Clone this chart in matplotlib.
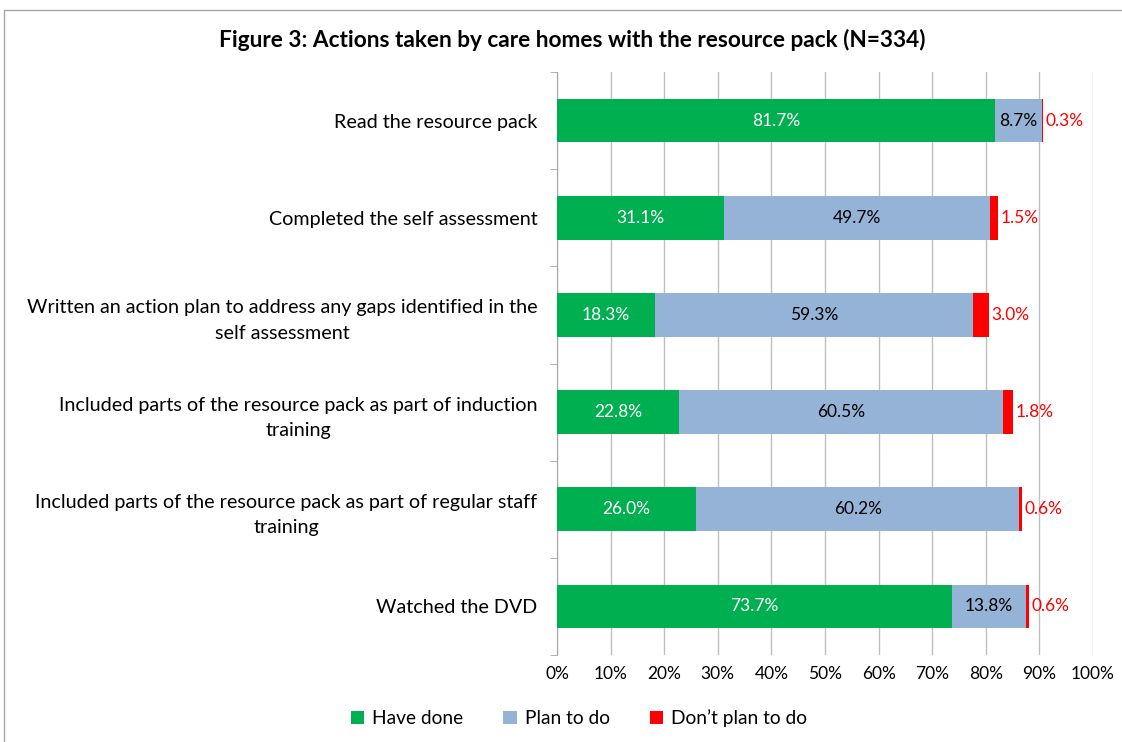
import matplotlib
matplotlib.use("Agg")
import matplotlib.pyplot as plt
from matplotlib.patches import Rectangle
import numpy as np

categories = [
    "Read the resource pack",
    "Completed the self assessment",
    "Written an action plan to address any gaps identified in the\nself assessment",
    "Included parts of the resource pack as part of induction\ntraining",
    "Included parts of the resource pack as part of regular staff\ntraining",
    "Watched the DVD",
]
have_done = [81.7, 31.1, 18.3, 22.8, 26.0, 73.7]
plan_to_do = [8.7, 49.7, 59.3, 60.5, 60.2, 13.8]
dont_plan = [0.3, 1.5, 3.0, 1.8, 0.6, 0.6]
series_names = ["Have done", "Plan to do", "Don\u2019t plan to do"]
colors = ["#00B050", "#95B3D7", "#FF0000"]
xticks = list(range(0, 101, 10))

plt.rcParams['font.family'] = ['Lato', 'DejaVu Sans']

fig = plt.figure(figsize=(11.22, 7.42), dpi=100)
ax = fig.add_axes([557/1122, 1-655/742, (1093-557)/1122, (655-72)/742])

# outer frame
fig.patches.append(Rectangle((4/1122, -0.01), 1.1, 1-10/742+0.01, transform=fig.transFigure,
                             fill=False, edgecolor="#A6A6A6", linewidth=1.0))

y = np.arange(len(categories))
h = 0.45
ax.barh(y, have_done, height=h, color=colors[0], label=series_names[0], zorder=3)
ax.barh(y, plan_to_do, left=have_done, height=h, color=colors[1], label=series_names[1], zorder=3)
left2 = [a + b for a, b in zip(have_done, plan_to_do)]
ax.barh(y, dont_plan, left=left2, height=h, color=colors[2], label=series_names[2], zorder=3)

fs_val = 12.5
for i in range(len(categories)):
    ax.text(have_done[i] / 2, y[i], f"{have_done[i]:.1f}%", ha="center", va="center",
            color="white", fontsize=fs_val, zorder=4)
    ax.text(have_done[i] + plan_to_do[i] / 2, y[i], f"{plan_to_do[i]:.1f}%", ha="center", va="center",
            color="black", fontsize=fs_val, zorder=4)
    ax.text(left2[i] + dont_plan[i] + 0.4, y[i], f"{dont_plan[i]:.1f}%", ha="left", va="center",
            color="#FF0000", fontsize=fs_val, zorder=4)

ax.set_xlim(0, 100)
ax.set_ylim(len(categories) - 0.5, -0.5)
ax.set_xticks(xticks)
ax.set_xticklabels([f"{t}%" for t in xticks], fontsize=12.5)
ax.set_yticks(y)
ax.set_yticklabels(categories, fontsize=14.2, multialignment="center", linespacing=1.6)
ax.tick_params(axis="y", length=0, pad=14)
ax.tick_params(axis="x", length=0, pad=8)
# category boundary ticks
ax.set_yticks(np.arange(-0.5, len(categories)), minor=True)
ax.tick_params(axis="y", which="minor", length=5, color="#A6A6A6", direction="out")

ax.grid(axis="x", color="#BFBFBF", linewidth=1.0, zorder=0)
for s in ["top", "right", "bottom"]:
    ax.spines[s].set_visible(False)
ax.spines["left"].set_color("#A6A6A6")

fig.text(0.51, 1-40/742, "Figure 3: Actions taken by care homes with the resource pack (N=334)",
         ha="center", va="center", fontsize=16.3, fontweight="bold")

leg = fig.legend(loc="center", bbox_to_anchor=(0.516, 1-718/742), ncol=3, frameon=False,
                 fontsize=13.8, handlelength=0.7, handleheight=0.7, columnspacing=2.1, handletextpad=0.4)

fig.savefig("out.png", dpi=100)
